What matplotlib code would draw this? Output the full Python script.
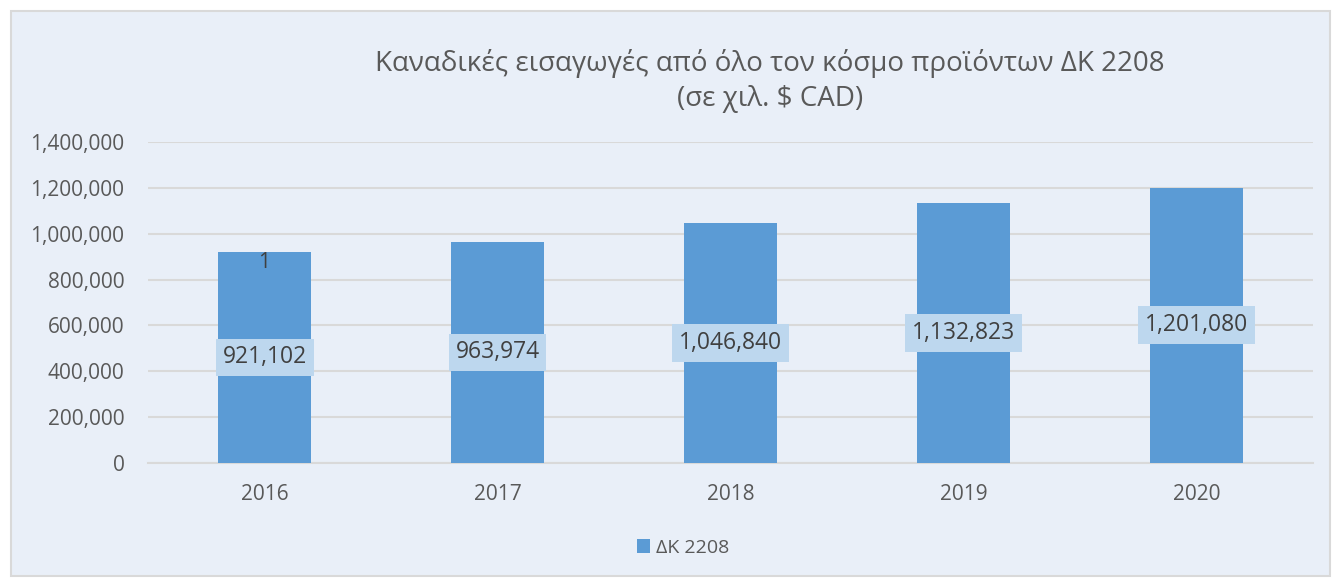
import matplotlib
matplotlib.use("Agg")
import matplotlib.pyplot as plt
from matplotlib.patches import Rectangle
from matplotlib.ticker import FuncFormatter

years = ["2016", "2017", "2018", "2019", "2020"]
values = [921102, 963974, 1046840, 1132823, 1201080]
extra_label_2016 = "1"
series_name = "ΔΚ 2208"
title = "Καναδικές εισαγωγές από όλο τον κόσμο προϊόντων ΔΚ 2208\n(σε χιλ. $ CAD)"

plt.rcParams['font.family'] = ['Open Sans', 'DejaVu Sans']
txt = '#595959'

fig = plt.figure(figsize=(13.35, 5.79), dpi=100)
fig.patch.set_facecolor('white')
bg = Rectangle((11/1335, 1 - 576/579), (1330-11)/1335, (576-11)/579, transform=fig.transFigure,
               facecolor='#e9eff8', edgecolor='#d9d9d9', linewidth=1.5, zorder=-10)
fig.patches.append(bg)

ax = fig.add_axes([148/1335, 116/579, (1313-148)/1335, (463-142)/579])
ax.set_facecolor('none')
x = list(range(len(years)))
bars = ax.bar(x, values, width=0.4, color='#5b9bd5', zorder=3, label=series_name)
ax.set_xlim(-0.5, len(years) - 0.5)
ax.set_ylim(0, 1400000)
ax.set_yticks(range(0, 1400001, 200000))
ax.yaxis.set_major_formatter(FuncFormatter(lambda v, p: f"{int(v):,}"))
ax.set_xticks(x)
ax.set_xticklabels(years)
ax.grid(axis='y', color='#d9d9d9', linewidth=1.5, zorder=0)
for s in ['top', 'right', 'left']:
    ax.spines[s].set_visible(False)
ax.spines['bottom'].set_color('#d9d9d9')
ax.spines['bottom'].set_linewidth(1.5)
ax.tick_params(axis='both', length=0, colors=txt, labelsize=15)
ax.tick_params(axis='y', pad=17)
ax.tick_params(axis='x', pad=15)

for xi, v in zip(x, values):
    ax.text(xi, v / 2, f"{v:,}", ha='center', va='center', fontsize=16.5, color='#404040', zorder=5,
            bbox=dict(boxstyle='square,pad=0.3', facecolor='#bdd7ee', edgecolor='none'))

ax.text(x[0], values[0], extra_label_2016, ha='center', va='top', fontsize=15, color='#404040', zorder=5)

fig.text(770/1335, 1 - 81/579, title, ha='center', va='center', fontsize=20, color=txt, linespacing=1.35)

leg = fig.legend(handles=[bars], labels=[series_name], loc='center', bbox_to_anchor=(683/1335, 1 - 548/579),
                 frameon=False, fontsize=14, handlelength=0.7, handleheight=0.7, handletextpad=0.3)
for t in leg.get_texts():
    t.set_color(txt)

fig.savefig('out.png', dpi=100, facecolor=fig.get_facecolor())
